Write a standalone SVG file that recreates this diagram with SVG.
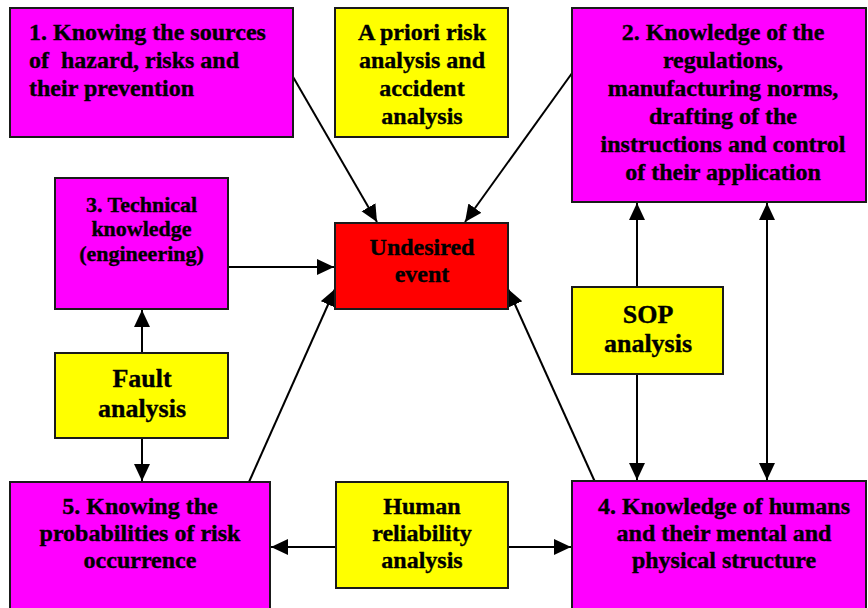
<svg xmlns="http://www.w3.org/2000/svg" width="868" height="608" viewBox="0 0 868 608">
<style>
.bx{stroke:#1a1a1a;stroke-width:2}
.mag{fill:#ff00ff}
.yel{fill:#ffff00}
.red{fill:#ff0000}
text{font-family:"Liberation Serif","Times New Roman",serif;font-weight:bold;fill:#000;stroke:#000;stroke-width:0.35}
.t{font-size:24px}
.c{text-anchor:middle}
.s{font-size:22px}
.l{font-size:26px}
.cn{stroke:#000;stroke-width:2;fill:none}
</style>
<defs>
<marker id="ah" markerUnits="userSpaceOnUse" markerWidth="18" markerHeight="17" refX="17" refY="8" orient="auto-start-reverse">
<path d="M0,0 L17,8 L0,16 z" fill="#000"/>
</marker>
</defs>
<rect width="868" height="608" fill="#fff"/>
<g id="connectors">
<path class="cn" d="M285 63 L377 222" marker-end="url(#ah)"/>
<path class="cn" d="M580 62 L465 222" marker-end="url(#ah)"/>
<path class="cn" d="M228 267 L334 267" marker-end="url(#ah)"/>
<path class="cn" d="M249 482 L335 289" marker-end="url(#ah)"/>
<path class="cn" d="M595 482 L508 289" marker-end="url(#ah)"/>
<path class="cn" d="M637 287 L637 203" marker-end="url(#ah)"/>
<path class="cn" d="M637 374 L637 480" marker-end="url(#ah)"/>
<path class="cn" d="M767 203 L767 480" marker-start="url(#ah)" marker-end="url(#ah)"/>
<path class="cn" d="M142 353 L142 310" marker-end="url(#ah)"/>
<path class="cn" d="M142 438 L142 481" marker-end="url(#ah)"/>
<path class="cn" d="M336 547 L271 547" marker-end="url(#ah)"/>
<path class="cn" d="M508 547 L571 547" marker-end="url(#ah)"/>
</g>
<g id="node1">
<rect class="bx mag" x="10" y="8" width="283" height="129"/>
<text class="t" x="29" y="40">1. Knowing the sources</text>
<text class="t" x="29" y="68" xml:space="preserve">of  hazard, risks and</text>
<text class="t" x="29" y="96">their prevention</text>
</g>
<g id="apriori">
<rect class="bx yel" x="335" y="8" width="173" height="129"/>
<text class="t c" x="422" y="40">A priori risk</text>
<text class="t c" x="422" y="68">analysis and</text>
<text class="t c" x="422" y="96">accident</text>
<text class="t c" x="422" y="124">analysis</text>
</g>
<g id="node2">
<rect class="bx mag" x="572" y="8" width="294" height="194"/>
<text class="t c" x="723" y="40">2. Knowledge of the</text>
<text class="t c" x="723" y="68">regulations,</text>
<text class="t c" x="723" y="96">manufacturing norms,</text>
<text class="t c" x="723" y="124">drafting of the</text>
<text class="t c" x="723" y="152">instructions and control</text>
<text class="t c" x="723" y="180">of their application</text>
</g>
<g id="node3">
<rect class="bx mag" x="55" y="178" width="173" height="131"/>
<text class="s c" x="141.5" y="212">3. Technical</text>
<text class="s c" x="141.5" y="236">knowledge</text>
<text class="s c" x="141.5" y="261">(engineering)</text>
</g>
<g id="undesired">
<rect class="bx red" x="335" y="223" width="173" height="86"/>
<text class="t c" x="422" y="255">Undesired</text>
<text class="t c" x="422" y="282">event</text>
</g>
<g id="sop">
<rect class="bx yel" x="572" y="287" width="151" height="87"/>
<text class="l c" x="648" y="323">SOP</text>
<text class="l c" x="648" y="352">analysis</text>
</g>
<g id="fault">
<rect class="bx yel" x="55" y="353" width="173" height="85"/>
<text class="l c" x="142" y="387">Fault</text>
<text class="l c" x="142" y="417">analysis</text>
</g>
<g id="node5">
<rect class="bx mag" x="10" y="482" width="260" height="140"/>
<text class="t c" x="140" y="514">5. Knowing the</text>
<text class="t c" x="140" y="541">probabilities of risk</text>
<text class="t c" x="140" y="568">occurrence</text>
</g>
<g id="human">
<rect class="bx yel" x="336" y="482" width="172" height="106"/>
<text class="t c" x="422" y="514">Human</text>
<text class="t c" x="422" y="541">reliability</text>
<text class="t c" x="422" y="568">analysis</text>
</g>
<g id="node4">
<rect class="bx mag" x="572" y="481" width="294" height="140"/>
<text class="t c" x="724" y="514">4. Knowledge of humans</text>
<text class="t c" x="724" y="541">and their mental and</text>
<text class="t c" x="724" y="568">physical structure</text>
</g>
</svg>
